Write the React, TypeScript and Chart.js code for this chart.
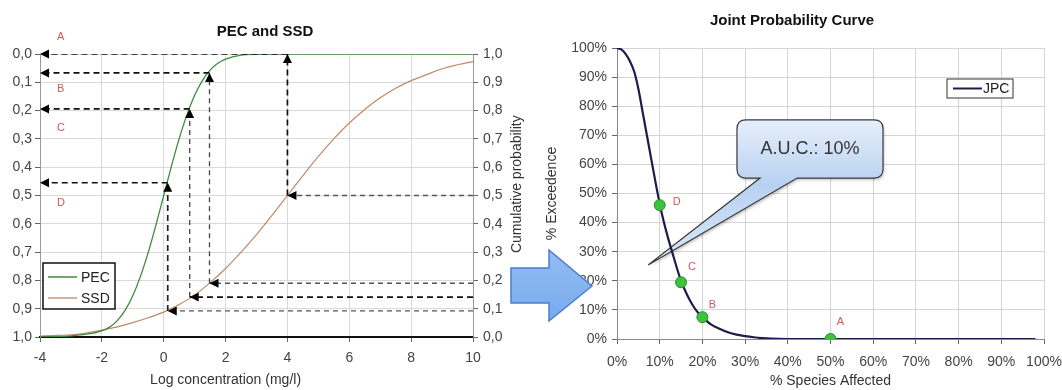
import React, { useEffect, useRef } from 'react';
import { Chart, registerables } from 'chart.js';
Chart.register(...registerables);

const FONT = "'Liberation Sans', Arial, sans-serif";

// ---------- Left chart: PEC and SSD ----------
const pecConc = [-4, -3.5, -3, -2.5, -2, -1.75, -1.5, -1.25, -1, -0.75, -0.5, -0.25, 0, 0.25, 0.5, 0.75, 1, 1.25, 1.5, 1.75, 2, 2.5, 3, 3.5, 4, 5, 6, 7, 8, 9, 10];
const pecCum = [0.0, 0.001, 0.004, 0.01, 0.022, 0.035, 0.058, 0.094, 0.146, 0.215, 0.299, 0.396, 0.5, 0.604, 0.701, 0.785, 0.854, 0.906, 0.943, 0.967, 0.982, 0.996, 0.999, 1.0, 1.0, 1.0, 1.0, 1.0, 1.0, 1.0, 1.0];
const ssdConc = [-4, -3.5, -3, -2.5, -2, -1.5, -1, -0.5, 0, 0.5, 1, 1.5, 2, 2.5, 3, 3.5, 4, 4.5, 5, 5.5, 6, 6.5, 7, 7.5, 8, 8.5, 9, 9.5, 10];
const ssdCum = [0.003, 0.005, 0.008, 0.014, 0.024, 0.036, 0.051, 0.068, 0.088, 0.115, 0.148, 0.192, 0.242, 0.3, 0.362, 0.43, 0.5, 0.57, 0.638, 0.7, 0.756, 0.804, 0.845, 0.879, 0.906, 0.927, 0.948, 0.962, 0.973];

// read-off paths (D, C, B, A): SSD level (right axis) -> log conc -> PEC level
const pathLetters = ['D', 'C', 'B', 'A'];
const ssdHits = [0.092, 0.141, 0.19, 0.5];
const hitConc = [0.13, 0.84, 1.48, 4.0];
const pecHits = [0.545, 0.806, 0.933, 1.0];
const letterExceed = [0.525, 0.26, 0.125, -0.06]; // left-axis position of the letters
const letterConc = -3.35;

// ---------- Right chart: Joint Probability Curve ----------
const speciesAffected = [0, 1, 2, 3, 4, 5, 6, 7, 8, 9, 10, 11, 12, 13, 14, 15, 16, 17, 18, 19, 20, 22, 24, 26, 28, 30, 32, 34, 36, 40, 98];
const exceedence = [100, 99.5, 98, 95.5, 92, 86, 78, 70, 62, 54, 46.5, 40, 34.5, 29.5, 24.5, 20, 16.5, 13.5, 11, 9, 7.5, 5, 3.5, 2.3, 1.5, 1, 0.6, 0.3, 0.1, 0, 0];
const markerLabels = ['D', 'C', 'B', 'A'];
const markerAffected = [10, 15, 20, 50];
const markerExceed = [46, 19.5, 7.5, 0];
const aucText = 'A.U.C.: 10%';
// callout geometry in data units (% affected, % exceedence)
const calloutBox = [28.1, 75.3, 62.3, 55.3];
const calloutTail = [33.5, 42.2, 7.3, 25.4];

const letterColor = '#cc5a5a';
const tickFont = { family: FONT, size: 14 };
const fmtComma = (v: any) => Number(v).toFixed(1).replace('.', ',');

const arrowHeads = {
  id: 'arrowHeads',
  afterDatasetsDraw(chart: any) {
    const ctx = chart.ctx;
    chart.data.datasets.forEach((ds: any, i: number) => {
      if (!ds.arrow) return;
      const pts = chart.getDatasetMeta(i).data;
      const a = pts[pts.length - 2];
      const b = pts[pts.length - 1];
      const ang = Math.atan2(b.y - a.y, b.x - a.x);
      ctx.save();
      ctx.fillStyle = '#000';
      ctx.translate(b.x, b.y);
      ctx.rotate(ang);
      ctx.beginPath();
      ctx.moveTo(0, 0);
      ctx.lineTo(-9, -4.5);
      ctx.lineTo(-9, 4.5);
      ctx.closePath();
      ctx.fill();
      ctx.restore();
    });
  },
};

const leftDecor = {
  id: 'leftDecor',
  afterDraw(chart: any) {
    const ctx = chart.ctx;
    const { left, top } = chart.chartArea;
    const xs = chart.scales.x;
    const yl = chart.scales.yL;
    const yr = chart.scales.y;
    ctx.save();
    // letters
    ctx.fillStyle = letterColor;
    ctx.font = `11px ${FONT}`;
    ctx.textAlign = 'left';
    ctx.textBaseline = 'middle';
    pathLetters.forEach((l, i) => {
      ctx.fillText(l, xs.getPixelForValue(letterConc) - 3, yl.getPixelForValue(letterExceed[i]));
    });
    // legend
    const lx = left + 3, ly = top + 209;
    ctx.fillStyle = '#fff';
    ctx.fillRect(lx, ly, 72, 46);
    ctx.strokeStyle = '#111';
    ctx.lineWidth = 1.5;
    ctx.strokeRect(lx, ly, 72, 46);
    const rows = [['PEC', '#3f8a3f'], ['SSD', '#c79a78']];
    rows.forEach(([t, c], i) => {
      const yy = ly + 14 + i * 21;
      ctx.strokeStyle = c;
      ctx.lineWidth = 1.5;
      ctx.beginPath();
      ctx.moveTo(lx + 5, yy);
      ctx.lineTo(lx + 34, yy);
      ctx.stroke();
      ctx.fillStyle = '#222';
      ctx.font = `14px ${FONT}`;
      ctx.textBaseline = 'middle';
      ctx.fillText(t, lx + 38, yy + 1);
    });
    // axis titles
    ctx.fillStyle = '#333';
    ctx.font = `14px ${FONT}`;
    ctx.textAlign = 'center';
    ctx.textBaseline = 'middle';
    ctx.fillText('Log concentration (mg/l)', xs.getPixelForValue(2), 380);
    ctx.translate(517, yr.getPixelForValue(0.54));
    ctx.rotate(-Math.PI / 2);
    ctx.fillText('Cumulative probability', 0, 0);
    ctx.restore();
  },
};

const rightDecor = {
  id: 'rightDecor',
  beforeDatasetsDraw(chart: any) {
    const ctx = chart.ctx;
    const xs = chart.scales.x;
    const ys = chart.scales.y;
    const x0 = xs.getPixelForValue(calloutBox[0]);
    const y0 = ys.getPixelForValue(calloutBox[1]);
    const x1 = xs.getPixelForValue(calloutBox[2]);
    const y1 = ys.getPixelForValue(calloutBox[3]);
    const tb0 = xs.getPixelForValue(calloutTail[0]);
    const tb1 = xs.getPixelForValue(calloutTail[1]);
    const tx = xs.getPixelForValue(calloutTail[2]);
    const ty = ys.getPixelForValue(calloutTail[3]);
    const r = 9;
    ctx.save();
    ctx.beginPath();
    ctx.moveTo(x0 + r, y0);
    ctx.lineTo(x1 - r, y0);
    ctx.quadraticCurveTo(x1, y0, x1, y0 + r);
    ctx.lineTo(x1, y1 - r);
    ctx.quadraticCurveTo(x1, y1, x1 - r, y1);
    ctx.lineTo(tb1, y1);
    ctx.lineTo(tx, ty);
    ctx.lineTo(tb0, y1);
    ctx.lineTo(x0 + r, y1);
    ctx.quadraticCurveTo(x0, y1, x0, y1 - r);
    ctx.lineTo(x0, y0 + r);
    ctx.quadraticCurveTo(x0, y0, x0 + r, y0);
    ctx.closePath();
    const g = ctx.createLinearGradient(0, y0, 0, ty);
    g.addColorStop(0, '#e6effb');
    g.addColorStop(0.45, '#b8d1f1');
    g.addColorStop(1, '#dde9f8');
    ctx.shadowColor = 'rgba(0,0,0,0.25)';
    ctx.shadowBlur = 3;
    ctx.shadowOffsetX = 1;
    ctx.shadowOffsetY = 2;
    ctx.fillStyle = g;
    ctx.fill();
    ctx.shadowColor = 'transparent';
    ctx.strokeStyle = '#3a3a3a';
    ctx.lineWidth = 1.2;
    ctx.stroke();
    ctx.fillStyle = '#333';
    ctx.font = `18px ${FONT}`;
    ctx.textAlign = 'center';
    ctx.textBaseline = 'middle';
    ctx.fillText(aucText, (x0 + x1) / 2, (y0 + y1) / 2);
    ctx.restore();
  },
  afterDraw(chart: any) {
    const ctx = chart.ctx;
    const { right, top } = chart.chartArea;
    ctx.save();
    // marker letters
    const offs = [[17, -3], [11, -15], [10, -12], [10, -17]];
    const meta = chart.getDatasetMeta(0);
    ctx.fillStyle = letterColor;
    ctx.font = `11px ${FONT}`;
    ctx.textAlign = 'center';
    ctx.textBaseline = 'middle';
    markerLabels.forEach((l, i) => {
      const p = meta.data[i];
      ctx.fillText(l, p.x + offs[i][0], p.y + offs[i][1]);
    });
    // legend
    const lx = right - 97, ly = top + 31;
    ctx.fillStyle = '#fff';
    ctx.fillRect(lx, ly, 66, 19);
    ctx.strokeStyle = '#333';
    ctx.lineWidth = 1;
    ctx.strokeRect(lx, ly, 66, 19);
    ctx.strokeStyle = '#1c1c4a';
    ctx.lineWidth = 2;
    ctx.beginPath();
    ctx.moveTo(lx + 6, ly + 9.5);
    ctx.lineTo(lx + 35, ly + 9.5);
    ctx.stroke();
    ctx.fillStyle = '#222';
    ctx.font = `14px ${FONT}`;
    ctx.textAlign = 'left';
    ctx.fillText('JPC', lx + 36, ly + 10.5);
    ctx.restore();
  },
};

function leftConfig(): any {
  const hColors = ['#555', '#111', '#555', '#555'];
  const vColors = ['#222', '#444', '#444', '#111'];
  const dashed = (color: string) => ({
    yAxisID: 'y',
    borderColor: color,
    borderWidth: color === '#111' || color === '#222' ? 1.7 : 1.3,
    borderDash: color === '#111' || color === '#222' ? [6, 4] : [5, 4],
    pointRadius: 0,
    arrow: true,
  });
  const arrows: any[] = [];
  pathLetters.forEach((_, i) => {
    arrows.push({ ...dashed(hColors[i]), data: [{ x: 10, y: ssdHits[i] }, { x: hitConc[i], y: ssdHits[i] }] });
    arrows.push({ ...dashed(vColors[i]), data: [{ x: hitConc[i], y: ssdHits[i] }, { x: hitConc[i], y: pecHits[i] }] });
    arrows.push({ ...dashed('#111'), data: [{ x: hitConc[i], y: pecHits[i] }, { x: -4, y: pecHits[i] }] });
  });
  return {
    type: 'line',
    data: {
      datasets: [
        ...arrows,
        {
          label: 'PEC', yAxisID: 'y',
          data: pecConc.map((x, i) => ({ x, y: pecCum[i] })),
          borderColor: '#3f8a3f', borderWidth: 1.3, pointRadius: 0, cubicInterpolationMode: 'monotone',
        },
        {
          label: 'SSD', yAxisID: 'y',
          data: ssdConc.map((x, i) => ({ x, y: ssdCum[i] })),
          borderColor: '#c08a68', borderWidth: 1.2, pointRadius: 0, cubicInterpolationMode: 'monotone',
        },
      ],
    },
    options: {
      responsive: false,
      animation: false,
      layout: { padding: 0 },
      plugins: {
        legend: { display: false },
        tooltip: { enabled: false },
        title: {
          display: true, text: 'PEC and SSD', color: '#111',
          font: { family: FONT, size: 15, weight: 'bold' },
          padding: { top: 23, bottom: 13 },
        },
      },
      scales: {
        x: {
          type: 'linear', min: -4, max: 10,
          ticks: { stepSize: 2, font: tickFont, color: '#444', padding: 8 },
          grid: { color: '#d9d9d9', tickColor: '#666', tickLength: 5 },
          border: { color: '#111', width: 2 },
          afterFit: (s: any) => { s.height = 53; },
        },
        yL: {
          type: 'linear', position: 'left', min: 0, max: 1, reverse: true,
          ticks: { stepSize: 0.1, callback: fmtComma, font: tickFont, color: '#444', padding: 3 },
          grid: { color: '#d9d9d9', tickColor: '#666', tickLength: 5 },
          border: { color: '#999' },
          afterFit: (s: any) => { s.width = 40; },
        },
        y: {
          type: 'linear', position: 'right', min: 0, max: 1,
          ticks: { stepSize: 0.1, callback: fmtComma, font: tickFont, color: '#444', padding: 5 },
          grid: { drawOnChartArea: false, tickColor: '#666', tickLength: 5 },
          border: { color: '#999' },
          afterFit: (s: any) => { s.width = 57; },
        },
      },
    },
    plugins: [arrowHeads, leftDecor],
  };
}

function rightConfig(): any {
  return {
    type: 'line',
    data: {
      datasets: [
        {
          label: 'points',
          data: markerAffected.map((x, i) => ({ x, y: markerExceed[i] })),
          showLine: false, pointRadius: 5.5, pointBackgroundColor: '#3cc43c', pointBorderColor: '#2a8a2a', pointBorderWidth: 1,
        },
        {
          label: 'JPC',
          data: speciesAffected.map((x, i) => ({ x, y: exceedence[i] })),
          borderColor: '#1c1c4a', borderWidth: 2.2, pointRadius: 0, cubicInterpolationMode: 'monotone',
        },
      ],
    },
    options: {
      responsive: false,
      animation: false,
      layout: { padding: { right: 18 } },
      plugins: {
        legend: { display: false },
        tooltip: { enabled: false },
        title: {
          display: true, text: 'Joint Probability Curve', color: '#111',
          font: { family: FONT, size: 15, weight: 'bold' },
          padding: { top: 12, bottom: 18 },
        },
      },
      scales: {
        x: {
          type: 'linear', min: 0, max: 100,
          ticks: { stepSize: 10, callback: (v: any) => v + '%', font: tickFont, color: '#444', padding: 10 },
          grid: { color: '#d4d4d4', tickColor: '#666', tickLength: 5 },
          border: { color: '#888' },
          title: { display: true, text: '% Species Affected', color: '#333', font: { family: FONT, size: 14 }, padding: { top: 0, bottom: 0 } },
          afterFit: (s: any) => { s.height = 51; s.paddingRight = 10; s.paddingLeft = 0; },
        },
        y: {
          type: 'linear', min: 0, max: 100,
          ticks: { stepSize: 10, callback: (v: any) => v + '%', font: tickFont, color: '#444', padding: 5 },
          grid: { color: '#d4d4d4', tickColor: '#666', tickLength: 5 },
          border: { color: '#888' },
          title: { display: true, text: '% Exceedence', color: '#333', font: { family: FONT, size: 14 }, padding: { top: 4, bottom: 0 } },
          afterFit: (s: any) => { s.width = 77; },
        },
      },
    },
    plugins: [rightDecor],
  };
}

export default function App() {
  const leftRef = useRef<HTMLCanvasElement>(null);
  const rightRef = useRef<HTMLCanvasElement>(null);
  useEffect(() => {
    const c1 = new Chart(leftRef.current as HTMLCanvasElement, leftConfig());
    const c2 = new Chart(rightRef.current as HTMLCanvasElement, rightConfig());
    return () => {
      c1.destroy();
      c2.destroy();
    };
  }, []);
  return (
    <div style={{ position: 'absolute', left: 0, top: 0, width: 1062, height: 390, background: '#fff', overflow: 'hidden' }}>
      <canvas ref={leftRef} width={530} height={390} style={{ position: 'absolute', left: 0, top: 0 }} />
      <canvas ref={rightRef} width={522} height={390} style={{ position: 'absolute', left: 540, top: 0 }} />
      <svg width={1062} height={390} style={{ position: 'absolute', left: 0, top: 0, pointerEvents: 'none' }}>
        <defs>
          <linearGradient id="arrowFill" x1="0" y1="0" x2="0" y2="1">
            <stop offset="0" stopColor="#92bdf3" />
            <stop offset="1" stopColor="#78aaec" />
          </linearGradient>
        </defs>
        <polygon points="511,268 549,268 549,250 592,286 549,321 549,303 511,303" fill="url(#arrowFill)" stroke="#4a7fd0" strokeWidth={1.5} strokeLinejoin="miter" />
      </svg>
    </div>
  );
}
